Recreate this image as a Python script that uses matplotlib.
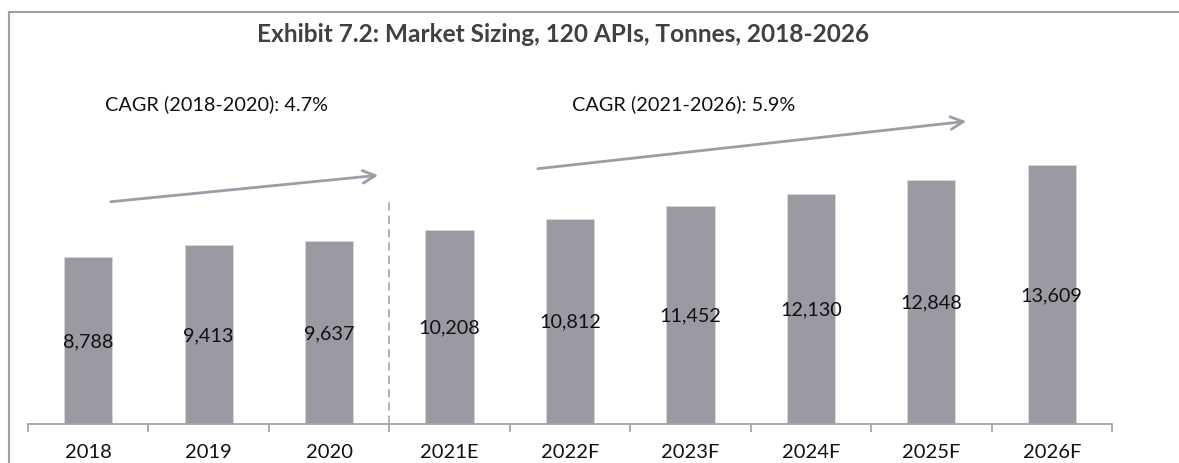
import matplotlib
matplotlib.use("Agg")
import matplotlib.pyplot as plt
from matplotlib.lines import Line2D

categories = ["2018", "2019", "2020", "2021E", "2022F", "2023F", "2024F", "2025F", "2026F"]
values = [8788, 9413, 9637, 10208, 10812, 11452, 12130, 12848, 13609]
value_labels = ["8,788", "9,413", "9,637", "10,208", "10,812", "11,452", "12,130", "12,848", "13,609"]
title = "Exhibit 7.2: Market Sizing, 120 APIs, Tonnes, 2018-2026"
cagr_texts = ["CAGR (2018-2020): 4.7%", "CAGR (2021-2026): 5.9%"]

plt.rcParams['font.family'] = ['Lato', 'DejaVu Sans']

W, H = 1179, 464
fig = plt.figure(figsize=(W / 100, H / 100), dpi=100)
fig.patch.set_facecolor("white")

ax = fig.add_axes([28 / W, (H - 425) / H, (1112 - 28) / W, 380 / H])
x = list(range(len(categories)))
bar_color = "#9b9aa3"
ax.bar(x, values, width=0.4, color=bar_color, edgecolor="#d8d8dc", linewidth=0.6, zorder=2)
ax.set_xlim(-0.5, len(categories) - 0.5)
ax.set_ylim(0, 20000)

txt_color = "#111111"
for xi, v, lab in zip(x, values, value_labels):
    ax.text(xi, v / 2, lab, ha="center", va="center", fontsize=14.2, color=txt_color)

for s in ["top", "right", "left"]:
    ax.spines[s].set_visible(False)
ax.spines["bottom"].set_color("#a6a6a6")
ax.spines["bottom"].set_linewidth(1.3)
ax.set_yticks([])
ax.set_xticks(x)
ax.set_xticklabels(categories, fontsize=14.5, color=txt_color)
ax.tick_params(axis="x", which="major", length=0, pad=14)
ax.set_xticks([i - 0.5 for i in range(len(categories) + 1)], minor=True)
ax.tick_params(axis="x", which="minor", length=6, width=1.3, color="#a6a6a6", direction="out")

# dashed separator
ax.plot([2.5, 2.5], [0, 11737], ls=(0, (5, 3)), color="#a6a6a6", lw=1.2, zorder=1)

arrow_color = "#9d9da8"
ax.annotate("", xy=(2.431, 13105), xytext=(0.164, 11684),
            arrowprops=dict(arrowstyle="->,head_length=0.9,head_width=0.45", color=arrow_color, lw=2))
ax.annotate("", xy=(7.313, 15947), xytext=(3.71, 13421),
            arrowprops=dict(arrowstyle="->,head_length=0.9,head_width=0.45", color=arrow_color, lw=2))

ax.text(0.139, 16895, cagr_texts[0], ha="left", va="center", fontsize=14.3, color=txt_color)
ax.text(4.017, 16895, cagr_texts[1], ha="left", va="center", fontsize=14.3, color=txt_color)

fig.text(563 / W, 1 - 35 / H, title, ha="center", va="center", fontsize=17.6,
         fontweight="bold", color="#404040")

# outer frame
fig.add_artist(Line2D([9 / W, 9 / W], [0, 1 - 13 / H], color="#a0a0a0", lw=1.5, transform=fig.transFigure))
fig.add_artist(Line2D([9 / W, 1], [1 - 13 / H, 1 - 13 / H], color="#a0a0a0", lw=1.5, transform=fig.transFigure))

fig.savefig("out.png", dpi=100)
